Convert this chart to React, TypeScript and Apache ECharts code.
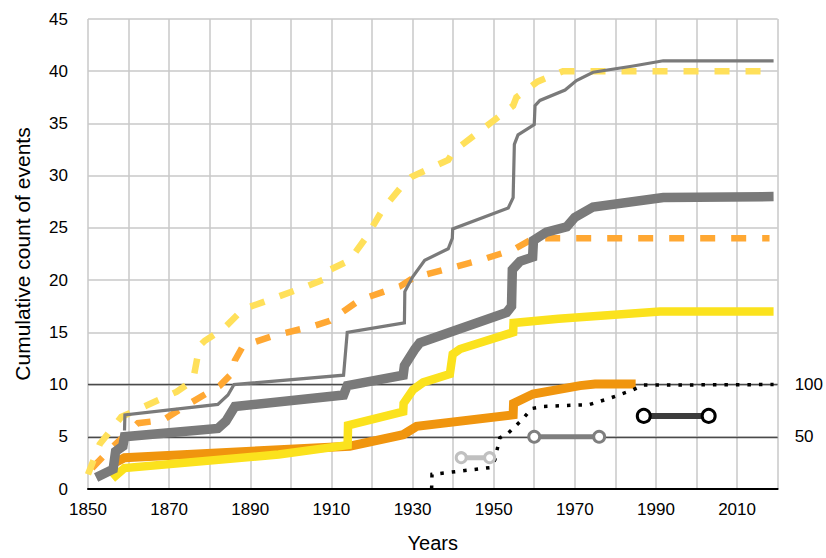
import React, { useEffect, useRef } from "react";
import * as echarts from "echarts";

const FONT = "'Liberation Sans', Arial, Helvetica, sans-serif";

// x axis labels shown every 20 years, gridlines every 10
const xLabelYears = [1850, 1870, 1890, 1910, 1930, 1950, 1970, 1990, 2010];
const rightLabels = [50, 100];

const thinGray: [number, number][] = [
  [1859, 5.6], [1859.1, 7.1], [1882, 8.1], [1884.5, 9.0], [1886, 10.0],
  [1913, 10.9], [1913.9, 15.0], [1928, 15.9], [1928.1, 18.9], [1930, 20.3],
  [1933, 21.9], [1938.8, 23.0], [1939.8, 24.0], [1939.9, 24.9], [1953.6, 26.9],
  [1954.8, 27.9], [1955.1, 33.0], [1956, 33.9], [1960, 34.9], [1960.2, 36.7],
  [1961.4, 37.2], [1967.6, 38.2], [1970.4, 39.1], [1974.5, 39.9], [1984.4, 40.5],
  [1991.8, 41.0], [2019, 41.0],
];

const thickGray: [number, number][] = [
  [1852, 1.1], [1856.2, 1.9], [1856.8, 3.6], [1858.6, 4.1], [1859, 5.0],
  [1882, 5.8], [1884, 6.5], [1886.2, 7.9], [1913, 9.0], [1913.9, 9.9],
  [1927.7, 10.9], [1928, 11.8], [1930.6, 13.4], [1931.8, 14.0], [1953.2, 16.9],
  [1954.4, 17.5], [1954.6, 21.0], [1956.5, 21.8], [1959.6, 22.2], [1959.8, 23.8],
  [1963, 24.6], [1968, 25.1], [1970, 26.0], [1974.5, 27.0], [1991.8, 27.9],
  [2019, 28.0],
];

const yellowDashed: [number, number][] = [
  [1850, 1.4], [1852.9, 4.3], [1858.2, 6.9], [1871.8, 9.3], [1875.9, 10.4],
  [1877.5, 13.7], [1878.8, 14.2], [1883.3, 15.3], [1888.2, 17.2], [1903.9, 19.4],
  [1909.6, 20.3], [1909.7, 21.0], [1914.5, 21.9], [1918.6, 24.1], [1922.7, 26.8],
  [1927.8, 29.2], [1929.8, 29.9], [1938.8, 31.5], [1940, 32.3], [1954.8, 36.7],
  [1955.6, 37.5], [1960.8, 39.0], [1967.1, 40.0], [2018, 40.0],
];

const orangeDashed: [number, number][] = [
  [1851, 2.0], [1856, 4.0], [1862.3, 6.3], [1868.5, 6.6], [1875.1, 8.2],
  [1882.5, 9.9], [1885.8, 11.2], [1886.2, 12.3], [1888.2, 13.7], [1896, 14.7],
  [1905.5, 15.6], [1909.6, 16.1], [1917, 18.1], [1925.2, 19.2], [1926.9, 19.4],
  [1930.1, 20.2], [1946.6, 21.9], [1954.8, 22.9], [1958.9, 23.8], [1962.2, 24.0],
  [2018, 24.0],
];

const yellowSolid: [number, number][] = [
  [1856, 1.0], [1859, 2.0], [1897, 3.3], [1914, 4.2], [1914.1, 6.1],
  [1927.7, 7.4], [1927.8, 8.2], [1930.1, 9.5], [1932.6, 10.2], [1939.2, 11.0],
  [1939.9, 12.9], [1941.7, 13.4], [1954.8, 15.0], [1954.9, 15.9], [1966, 16.3],
  [1991, 17.0], [2019, 17.0],
];

const orangeSolid: [number, number][] = [
  [1856.5, 2.5], [1859, 3.0], [1914.5, 4.1], [1927.7, 5.2], [1931, 6.0],
  [1954.8, 7.1], [1954.9, 8.2], [1959.7, 9.1], [1971.3, 9.9], [1975, 10.05],
  [1985, 10.05],
];

// secondary (right) axis series
const dotted: [number, number][] = [
  [1934.7, 0], [1934.8, 14], [1949.1, 20.5], [1950.3, 28], [1951.5, 49],
  [1953.6, 53.5], [1955.6, 61], [1957.4, 68], [1959.3, 77], [1962.2, 79],
  [1971.3, 80.5], [1973.3, 80.5], [1976.2, 84], [1978.7, 87], [1981.5, 91],
  [1984.4, 95], [1986.9, 99.5], [2019, 100],
];

const dumbbellLight: [number, number][] = [[1942, 30], [1949, 30]];
const dumbbellMid: [number, number][] = [[1960, 50], [1976, 50]];
const dumbbellDark: [number, number][] = [[1987, 70], [2003, 70]];

export default function App() {
  const ref = useRef<HTMLDivElement>(null);

  useEffect(() => {
    if (!ref.current) return;
    const chart = echarts.init(ref.current, null, { renderer: "svg" });

    const line = (data: [number, number][], color: string, width: number, type: any, z = 2, yAxisIndex = 0) => ({
      type: "line",
      data,
      yAxisIndex,
      showSymbol: false,
      symbol: "none",
      z,
      silent: true,
      lineStyle: { color, width, type, cap: "butt", join: "miter" },
    });

    const dumbbell = (data: [number, number][], color: string, border: string, width: number, size: number) => ({
      type: "line",
      data,
      yAxisIndex: 1,
      symbol: "circle",
      symbolSize: size,
      showSymbol: true,
      z: 6,
      silent: true,
      lineStyle: { color, width, cap: "butt" },
      itemStyle: { color: "#ffffff", borderColor: border, borderWidth: 3 },
    });

    const textStyle = { color: "#000", fontFamily: FONT, fontSize: 17 };

    chart.setOption({
      animation: false,
      backgroundColor: "#ffffff",
      grid: { left: 88, right: 48, top: 19, bottom: 63 },
      xAxis: {
        type: "value",
        min: 1850,
        max: 2020,
        interval: 10,
        name: "Years",
        nameLocation: "middle",
        nameGap: 44,
        nameTextStyle: { color: "#000", fontFamily: FONT, fontSize: 20 },
        axisLine: { show: true, onZero: false, lineStyle: { color: "#000", width: 2 } },
        axisTick: { show: false },
        axisLabel: {
          ...textStyle,
          margin: 12,
          formatter: (v: number) => (xLabelYears.includes(v) ? String(v) : ""),
        },
        splitLine: { show: true, lineStyle: { color: "#c9c9c9", width: 1.5 } },
      },
      yAxis: [
        {
          type: "value",
          min: 0,
          max: 45,
          interval: 5,
          name: "Cumulative count of events",
          nameLocation: "middle",
          nameRotate: 90,
          nameGap: 55,
          nameTextStyle: { color: "#000", fontFamily: FONT, fontSize: 21 },
          axisLine: { show: false },
          axisTick: { show: false },
          axisLabel: { ...textStyle, margin: 20 },
          splitLine: { show: true, lineStyle: { color: "#c9c9c9", width: 1.5 } },
        },
        {
          type: "value",
          min: 0,
          max: 450,
          interval: 50,
          position: "right",
          axisLine: { show: false },
          axisTick: { show: false },
          splitLine: { show: false },
          axisLabel: {
            ...textStyle,
            margin: 17,
            formatter: (v: number) => (rightLabels.includes(v) ? String(v) : ""),
          },
        },
      ],
      series: [
        line(orangeDashed, "#FFA833", 6.5, [15, 16]),
        line(yellowDashed, "#FFE05A", 6.5, [15, 16]),
        line(thinGray, "#7a7a7a", 3.2),
        line(orangeSolid, "#F0950E", 9),
        line(yellowSolid, "#FBE21D", 8.5),
        line(thickGray, "#7a7a7a", 9.5),
        {
          ...line(dotted, "#000000", 3.5, [3.5, 8], 5, 1),
          markLine: {
            silent: true,
            z: 1,
            symbol: ["none", "none"],
            label: { show: false },
            lineStyle: { color: "#4a4a4a", width: 1.3, type: "solid" },
            data: rightLabels.map((v) => ({ yAxis: v })),
          },
        },
        dumbbell(dumbbellLight, "#c0c0c0", "#c0c0c0", 5, 10),
        dumbbell(dumbbellMid, "#7f7f7f", "#7f7f7f", 5, 11),
        dumbbell(dumbbellDark, "#3c3c3c", "#000000", 6, 13),
      ],
    });

    return () => chart.dispose();
  }, []);

  return (
    <div
      ref={ref}
      style={{ position: "fixed", left: 0, top: 0, width: 826, height: 558, background: "#fff" }}
    />
  );
}
